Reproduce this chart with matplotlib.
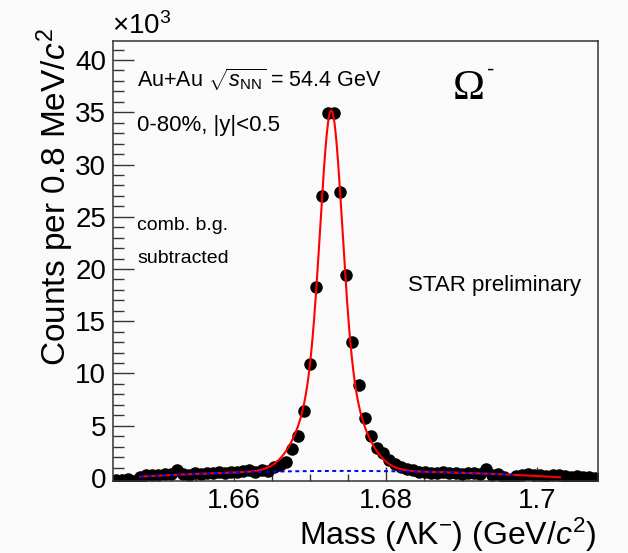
import numpy as np
import matplotlib
matplotlib.use("Agg")
import matplotlib.pyplot as plt
from matplotlib.ticker import MultipleLocator

# params to control plot
plt.rcParams.update({
    'font.family'       : 'Liberation Sans',
    'mathtext.fontset'  : 'custom',
    'mathtext.rm'       : 'Liberation Sans',
    'mathtext.it'       : 'Liberation Sans:italic',
    'mathtext.bf'       : 'Liberation Sans:bold',
})

## bin centres (GeV/c^2), 0.8 MeV bins
mass_lo = 1.6444
bin_width = 0.0008
n_bins = 80

## counts per bin (x10^3)
counts = [
    -0.15, -0.20, -0.10, -0.25, 0.10, 0.30, 0.30, 0.25, 0.40, 0.35,
    0.80, 0.35, 0.30, 0.45, 0.40, 0.50, 0.45, 0.55, 0.45, 0.60,
    0.55, 0.70, 0.75, 0.60, 0.75, 0.70, 1.05, 1.25, 1.55, 2.75,
    4.00, 6.40, 10.9, 18.3, 27.0, 34.9, 34.9, 27.4, 19.4, 13.0,
    8.90, 5.70, 4.00, 2.90, 2.40, 1.70, 1.30, 1.05, 0.90, 0.75,
    0.55, 0.60, 0.50, 0.45, 0.55, 0.50, 0.45, 0.40, 0.50, 0.45,
    0.35, 0.90, 0.30, 0.35, 0.10, -0.20, 0.20, 0.30, 0.35, 0.25,
    0.30, 0.20, 0.30, 0.25, 0.15, 0.10, 0.20, 0.05, 0.10, 0.00,
]

## fit parameters (double gaussian + quadratic background), x10^3
peak_mean = 1.6728
amp_narrow, sigma_narrow = 24.5, 0.0014
amp_wide, sigma_wide = 10.0, 0.0033
bg_ref, bg_p0, bg_p1, bg_p2 = 1.672, 0.67, 3.8, -752.0
fit_range = (1.6476, 1.703)
bg_range = (1.6476, 1.697)


def background(x):
    u = x - bg_ref
    return bg_p0 + bg_p1 * u + bg_p2 * u ** 2


def fit_func(x):
    narrow = amp_narrow * np.exp(-(x - peak_mean) ** 2 / (2 * sigma_narrow ** 2))
    wide = amp_wide * np.exp(-(x - peak_mean) ** 2 / (2 * sigma_wide ** 2))
    return background(x) + narrow + wide


W, H = 628, 553
fig = plt.figure(figsize=(W / 100, H / 100), dpi=100, facecolor='#fafafa')
ax = fig.add_axes([113 / W, 1 - 481 / H, (598 - 113) / W, (481 - 41) / H])
ax.set_facecolor('#fafafa')

mass = mass_lo + bin_width * np.arange(n_bins)
ax.plot(mass, counts, 'o', color='k', ms=8, zorder=2)

xf = np.linspace(fit_range[0], fit_range[1], 600)
ax.plot(xf, fit_func(xf), color='red', lw=1.5, zorder=3)
xb = np.linspace(bg_range[0], bg_range[1], 300)
ax.plot(xb, background(xb), color='blue', lw=1.4, ls=(0, (2, 1.8)), zorder=4)

ax.set_xlim(1.644, 1.708)
ax.set_ylim(-0.29, 41.82)

ax.xaxis.set_major_locator(MultipleLocator(0.02))
ax.xaxis.set_minor_locator(MultipleLocator(0.005))
ax.yaxis.set_major_locator(MultipleLocator(5))
ax.yaxis.set_minor_locator(MultipleLocator(1))
ax.set_xticks([1.66, 1.68, 1.70])
ax.set_xticklabels(['1.66', '1.68', '1.7'])
ax.tick_params(which='both', direction='in', top=False, right=False,
               labelsize=20, pad=5, width=1, color='#333333')
ax.tick_params(axis='y', which='major', length=15)
ax.tick_params(axis='y', which='minor', length=8)
ax.tick_params(axis='x', which='major', length=10)
ax.tick_params(axis='x', which='minor', length=5)
for sp in ax.spines.values():
    sp.set_linewidth(1.1)
    sp.set_color('#333333')

## axis titles
fig.text(597 / W, 1 - 545 / H, r'Mass ($\Lambda$K$^{-}$) (GeV/$c^{2}$)',
         ha='right', va='baseline', fontsize=23)
fig.text(55 / W, 1 - 28 / H, r'Counts per 0.8 MeV/$c^{2}$',
         ha='center', va='top', rotation=90, fontsize=24)
fig.text(112 / W, 1 - 34 / H, r'$\times$10$^{3}$', ha='left', va='baseline',
         fontsize=20)

## labels inside the frame
fig.text(137 / W, 1 - 87 / H, r'Au+Au $\sqrt{s_{\rm NN}}$ = 54.4 GeV',
         ha='left', va='baseline', fontsize=15.5)
fig.text(137 / W, 1 - 131 / H, '0-80%, |y|<0.5', ha='left', va='baseline',
         fontsize=16)
fig.text(137 / W, 1 - 230 / H, 'comb. b.g.', ha='left', va='baseline',
         fontsize=14)
fig.text(137 / W, 1 - 263 / H, 'subtracted', ha='left', va='baseline',
         fontsize=14)
fig.text(408 / W, 1 - 291 / H, 'STAR preliminary', ha='left', va='baseline',
         fontsize=16)
fig.text(453 / W, 1 - 99 / H, '\u03A9', ha='left', va='baseline',
         fontsize=31, family='Liberation Serif')
fig.text(487 / W, 1 - 76 / H, '-', ha='left', va='baseline', fontsize=16)

fig.savefig('out.png', dpi=100, facecolor=fig.get_facecolor())
